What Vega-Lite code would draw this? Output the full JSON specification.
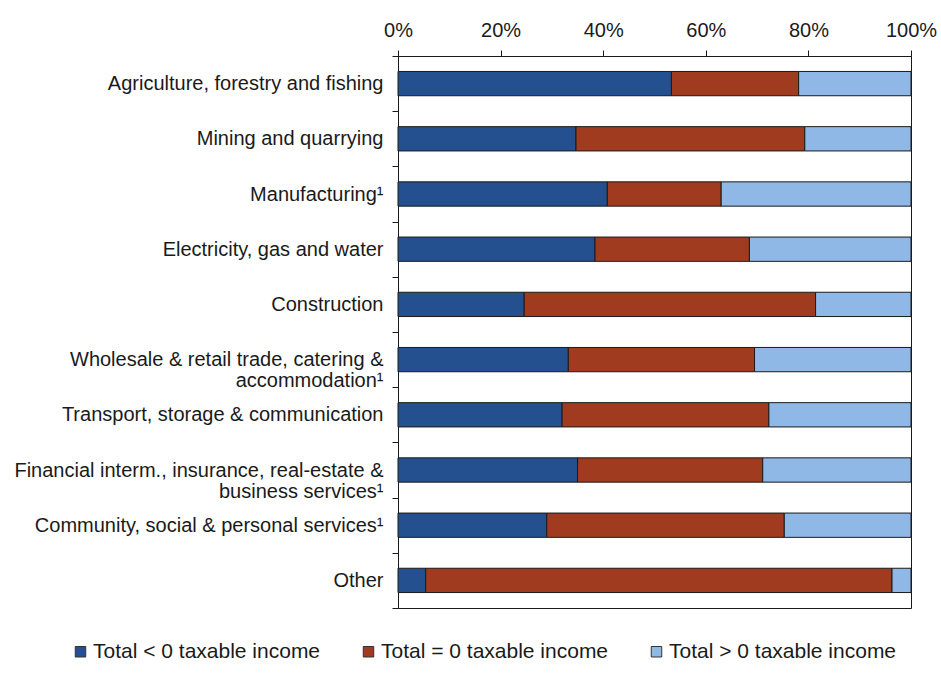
{
  "$schema": "https://vega.github.io/schema/vega-lite/v6.json",
  "autosize": "none",
  "width": 513,
  "height": 552,
  "padding": {"left": 398, "top": 56, "right": 30, "bottom": 76},
  "background": "white",
  "data": {"values": [
    {"sector": "Agriculture, forestry and fishing", "cat": "Total < 0 taxable income", "k": 1, "pct": 53.3},
    {"sector": "Agriculture, forestry and fishing", "cat": "Total = 0 taxable income", "k": 2, "pct": 24.8},
    {"sector": "Agriculture, forestry and fishing", "cat": "Total > 0 taxable income", "k": 3, "pct": 21.9},
    {"sector": "Mining and quarrying", "cat": "Total < 0 taxable income", "k": 1, "pct": 34.7},
    {"sector": "Mining and quarrying", "cat": "Total = 0 taxable income", "k": 2, "pct": 44.6},
    {"sector": "Mining and quarrying", "cat": "Total > 0 taxable income", "k": 3, "pct": 20.7},
    {"sector": "Manufacturing¹", "cat": "Total < 0 taxable income", "k": 1, "pct": 40.8},
    {"sector": "Manufacturing¹", "cat": "Total = 0 taxable income", "k": 2, "pct": 22.2},
    {"sector": "Manufacturing¹", "cat": "Total > 0 taxable income", "k": 3, "pct": 37.0},
    {"sector": "Electricity, gas and water", "cat": "Total < 0 taxable income", "k": 1, "pct": 38.4},
    {"sector": "Electricity, gas and water", "cat": "Total = 0 taxable income", "k": 2, "pct": 30.1},
    {"sector": "Electricity, gas and water", "cat": "Total > 0 taxable income", "k": 3, "pct": 31.5},
    {"sector": "Construction", "cat": "Total < 0 taxable income", "k": 1, "pct": 24.6},
    {"sector": "Construction", "cat": "Total = 0 taxable income", "k": 2, "pct": 56.8},
    {"sector": "Construction", "cat": "Total > 0 taxable income", "k": 3, "pct": 18.6},
    {"sector": "Wholesale & retail trade, catering &|accommodation¹", "cat": "Total < 0 taxable income", "k": 1, "pct": 33.2},
    {"sector": "Wholesale & retail trade, catering &|accommodation¹", "cat": "Total = 0 taxable income", "k": 2, "pct": 36.3},
    {"sector": "Wholesale & retail trade, catering &|accommodation¹", "cat": "Total > 0 taxable income", "k": 3, "pct": 30.5},
    {"sector": "Transport, storage & communication", "cat": "Total < 0 taxable income", "k": 1, "pct": 32.0},
    {"sector": "Transport, storage & communication", "cat": "Total = 0 taxable income", "k": 2, "pct": 40.3},
    {"sector": "Transport, storage & communication", "cat": "Total > 0 taxable income", "k": 3, "pct": 27.7},
    {"sector": "Financial interm., insurance, real-estate &|business services¹", "cat": "Total < 0 taxable income", "k": 1, "pct": 35.0},
    {"sector": "Financial interm., insurance, real-estate &|business services¹", "cat": "Total = 0 taxable income", "k": 2, "pct": 36.1},
    {"sector": "Financial interm., insurance, real-estate &|business services¹", "cat": "Total > 0 taxable income", "k": 3, "pct": 28.9},
    {"sector": "Community, social & personal services¹", "cat": "Total < 0 taxable income", "k": 1, "pct": 29.0},
    {"sector": "Community, social & personal services¹", "cat": "Total = 0 taxable income", "k": 2, "pct": 46.3},
    {"sector": "Community, social & personal services¹", "cat": "Total > 0 taxable income", "k": 3, "pct": 24.7},
    {"sector": "Other", "cat": "Total < 0 taxable income", "k": 1, "pct": 5.4},
    {"sector": "Other", "cat": "Total = 0 taxable income", "k": 2, "pct": 90.9},
    {"sector": "Other", "cat": "Total > 0 taxable income", "k": 3, "pct": 3.7}
  ]},
  "mark": {"type": "bar", "stroke": "#1a1a1a", "strokeWidth": 1, "height": {"band": 0.44}},
  "encoding": {
    "y": {
      "field": "sector", "type": "nominal", "sort": null,
      "scale": {"paddingInner": 0, "paddingOuter": 0},
      "axis": {
        "title": null,
        "labelExpr": "split(datum.label, '|')",
        "tickBand": "extent",
        "tickSize": 6,
        "labelPadding": 9,
        "labelFontSize": 20,
        "labelLineHeight": 21,
        "labelLimit": 420,
        "labelColor": "#1a1a1a",
        "domainColor": "#1a1a1a",
        "tickColor": "#1a1a1a",
        "encode": {
          "labels": {
            "dy": {"signal": "indexof(datum.value, '|') >= 0 ? -10 : 0"}
          }
        }
      }
    },
    "x": {
      "field": "pct", "type": "quantitative", "stack": "zero",
      "scale": {"domain": [0, 100], "nice": false},
      "axis": {
        "orient": "top",
        "title": null,
        "values": [0, 20, 40, 60, 80, 100],
        "labelExpr": "datum.value + '%'",
        "grid": false,
        "tickSize": 6,
        "labelPadding": 10,
        "labelFontSize": 20,
        "labelColor": "#1a1a1a",
        "labelFlush": false,
        "domainColor": "#1a1a1a",
        "tickColor": "#1a1a1a"
      }
    },
    "color": {
      "field": "cat", "type": "nominal",
      "scale": {
        "domain": ["Total < 0 taxable income", "Total = 0 taxable income", "Total > 0 taxable income"],
        "range": ["#24508f", "#a13b1f", "#90b8e6"]
      },
      "legend": {
        "title": null,
        "orient": "none",
        "direction": "horizontal",
        "legendX": -328,
        "legendY": 585,
        "columnPadding": 37,
        "symbolType": "square",
        "symbolSize": 110,
        "symbolStrokeColor": "#333",
        "symbolStrokeWidth": 1,
        "labelFontSize": 21,
        "labelOffset": 2,
        "labelColor": "#1a1a1a",
        "labelLimit": 320
      }
    },
    "order": {"field": "k"}
  },
  "config": {
    "font": "Liberation Sans",
    "view": {"stroke": "#1a1a1a", "strokeWidth": 1}
  }
}
